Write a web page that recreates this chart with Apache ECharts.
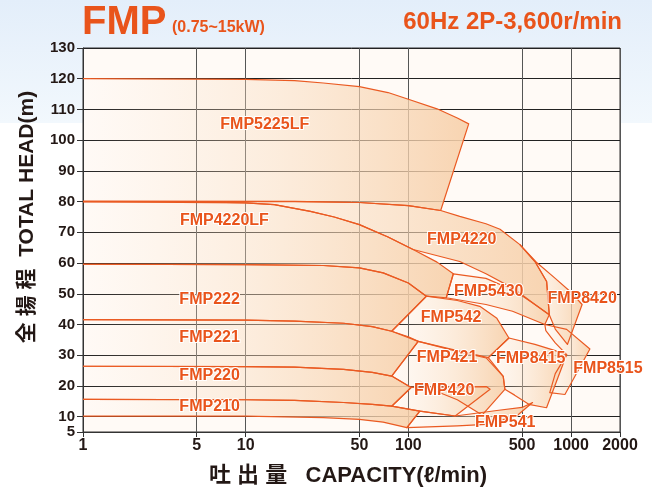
<!DOCTYPE html>
<html>
<head>
<meta charset="utf-8">
<script src="https://cdn.jsdelivr.net/npm/echarts@6/dist/echarts.min.js"></script>
<style>
  html, body { margin: 0; padding: 0; background: #fff; }
  #main {
    width: 652px; height: 495px;
    background: linear-gradient(#e3eefa 0, #f2f8fd 123px, #fff 123px);
  }
</style>
</head>
<body>
<div id="main"></div>
<script>
// 目盛り
const xTicks = [1, 5, 10, 50, 100, 500, 1000, 2000];
const yTicks = [5, 10, 20, 30, 40, 50, 60, 70, 80, 90, 100, 110, 120, 130];

// 各機種の範囲 [吐出量 l/min, 全揚程 m]
const fmp5225lf = [[1, 120], [10, 119.8], [20, 119.4], [30, 118.6], [50, 117.4], [75, 115.5], [100, 113.3],
  [150, 110.2], [200, 107.2], [235, 105.3],
  [158, 77.1], [100, 78.7], [50, 79.7], [20, 80], [1, 80]];
const fmp4220 = [[1, 80.2], [20, 80.1], [50, 79.7], [100, 78.7], [158, 77.1], [207, 75.2], [300, 72.8], [366, 71],
  [485, 66], [600, 60.5], [708, 54], [735, 43.2], [600, 46.5], [450, 51.5], [300, 56.5], [207, 60.5], [107, 64.4],
  [75, 68.5], [50, 72.5], [35, 75], [25, 76.8], [15, 79], [10, 79.6], [1, 80]];
const fmp8420 = [[485, 66], [620, 60], [800, 55], [1000, 50.5], [1170, 46.5], [950, 33.5], [800, 38.5], [735, 43.2],
  [708, 54], [600, 60.5]];
const fmp4220lf = [[1, 80], [5, 80], [10, 79.6], [15, 79], [25, 76.8], [35, 75], [50, 72.5], [75, 68.5],
  [107, 64.4], [150, 60.3], [189, 56.5],
  [171, 48.7], [129, 49.2], [100, 53.5], [70, 56.8], [50, 58.4], [30, 59.2], [10, 59.5], [1, 59.6]];
const fmp5430 = [[189, 56.5], [300, 55], [450, 51], [600, 46.5], [735, 43.2], [690, 40], [437, 44.3], [300, 46.5],
  [171, 48.7]];
const fmp8515 = [[690, 40], [940, 38.4], [1306, 32], [917, 17.2], [740, 17.8], [800, 24], [940, 30.2], [800, 34],
  [700, 38]];
const fmp222 = [[1, 59.6], [10, 59.5], [30, 59.2], [50, 58.4], [70, 56.8], [100, 53.5], [129, 49.2], [79, 37.8],
  [60, 39.3], [40, 40.4], [20, 41.1], [10, 41.4], [1, 41.6]];
const fmp542 = [[129, 49.2], [200, 47.8], [275, 45.9], [350, 42], [415, 35.6], [310, 29.2], [200, 31.5],
  [115, 34.5], [79, 37.8]];
const fmp8415 = [[415, 35.6], [600, 33.5], [800, 31.5], [940, 30.2], [707, 12.9], [550, 14], [450, 17],
  [392, 18.9], [383, 23.1], [310, 29.2]];
const fmp221 = [[1, 41.6], [10, 41.4], [20, 41.1], [40, 40.4], [60, 39.3], [79, 37.8], [100, 36], [115, 34.5],
  [79, 23.2], [60, 24.4], [40, 25.4], [20, 26.1], [10, 26.3], [1, 26.4]];
const fmp421 = [[115, 34.5], [181, 31.8], [301, 29.1], [383, 23.1], [392, 18.9], [284, 10.5], [200, 15.5],
  [130, 19.5], [104, 19.5], [79, 23.2]];
const fmp220 = [[1, 26.4], [10, 26.3], [20, 26.1], [40, 25.4], [60, 24.4], [79, 23.2], [104, 19.5], [79, 13.4],
  [60, 14], [40, 14.6], [20, 15.3], [10, 15.5], [1, 15.6]];
const fmp420 = [[104, 19.5], [181, 19.6], [301, 19.8], [318, 18.9], [194, 10.2], [117.6, 11.8], [79, 13.4]];
const fmp210 = [[1, 15.6], [10, 15.5], [20, 15.3], [40, 14.6], [60, 14], [79, 13.4], [117.6, 11.8], [98, 6.4],
  [70, 8.2], [50, 9.1], [30, 9.7], [10, 10.2], [1, 10.2]];
const fmp541 = [[117.6, 11.8], [194, 10.2], [350, 12], [500, 13], [580, 14.6], [463, 10.2], [300, 7.5],
  [200, 7], [98, 6.4]];

const regions = [fmp5225lf, fmp4220, fmp8420, fmp4220lf, fmp5430, fmp8515, fmp222, fmp542, fmp8415,
  fmp221, fmp421, fmp220, fmp420, fmp210, fmp541];

// ラベル
const labelNames = ['FMP5225LF', 'FMP4220LF', 'FMP222', 'FMP221', 'FMP220', 'FMP210',
  'FMP4220', 'FMP5430', 'FMP8420', 'FMP542', 'FMP421', 'FMP8415', 'FMP8515', 'FMP420', 'FMP541'];
const labelX = [13.1, 7.4, 6.0, 6.0, 6.0, 6.0, 213, 312, 1170, 183, 173, 565, 1687, 166, 394];
const labelY = [105, 73.8, 48.1, 35.75, 23.4, 13.3, 67.6, 50.7, 48.4, 42.4, 29.1, 28.9, 25.8, 18.5, 8.2];

const orange = '#e9541b';
const lineColor = '#ea5a22';
const font = 'Liberation Sans, Arial, sans-serif';

const chart = echarts.init(document.getElementById('main'), null, { renderer: 'canvas' });

function regionFill(params, api) {
  const pts = regions[params.dataIndex].map(p => api.coord(p));
  return {
    type: 'polygon',
    shape: { points: pts },
    style: {
      fill: new echarts.graphic.LinearGradient(0, 0, 1, 0, [
        { offset: 0, color: 'rgba(250,225,200,0)' },
        { offset: 0.5, color: 'rgba(249,220,190,0.45)' },
        { offset: 1, color: 'rgba(247,208,170,0.9)' }
      ])
    }
  };
}

function regionLine(params, api) {
  const r = regions[params.dataIndex];
  const pts = r.map(p => api.coord(p));
  const open = r[0][0] === 1 && r[r.length - 1][0] === 1;
  return {
    type: open ? 'polyline' : 'polygon',
    shape: { points: pts },
    style: { fill: 'none', stroke: lineColor, lineWidth: 1.2, lineJoin: 'round' }
  };
}

const regionData = regions.map((r, i) => [r[0][0], r[0][1], i]);
const labelData = labelNames.map((n, i) => [labelX[i], labelY[i], n]);

const option = {
  animation: false,
  textStyle: { fontFamily: font },
  grid: {
    left: 83, right: 32, top: 48, bottom: 63,
    show: true, backgroundColor: '#fffaf6', borderColor: '#333', borderWidth: 1
  },
  xAxis: {
    type: 'log', logBase: 10, min: 1, max: 2000,
    axisLine: { lineStyle: { color: '#333', width: 1 } },
    axisTick: { show: true, length: 5, customValues: xTicks, lineStyle: { color: '#333' } },
    axisLabel: {
      customValues: xTicks, formatter: v => String(v), hideOverlap: false,
      color: '#231815', fontSize: 16, fontWeight: 'bold', margin: 6
    },
    splitLine: { show: true, lineStyle: { color: '#555', width: 1 } }
  },
  yAxis: {
    type: 'value', min: 5, max: 130,
    axisLine: { show: true, lineStyle: { color: '#333', width: 1 } },
    axisTick: { show: true, length: 6, customValues: yTicks, lineStyle: { color: '#333' } },
    axisLabel: {
      customValues: yTicks, hideOverlap: false,
      color: '#231815', fontSize: 15, fontWeight: 'bold', margin: 8
    },
    splitLine: { show: true, lineStyle: { color: '#222', width: 1 } }
  },
  graphic: [
    {
      type: 'text', left: 82, top: 3,
      style: { text: 'FMP', fill: orange, font: 'bold 40px ' + font }
    },
    {
      type: 'text', left: 172, top: 20,
      style: { text: '(0.75~15kW)', fill: orange, font: 'bold 16px ' + font }
    },
    {
      type: 'text', right: 30, top: 10,
      style: { text: '60Hz 2P-3,600r/min', fill: orange, font: 'bold 24px ' + font }
    },
    {
      type: 'text', x: 348, y: 476,
      style: {
        text: '吐 出 量   CAPACITY(ℓ/min)', fill: '#231815',
        font: 'bold 22px Liberation Sans, Noto Sans CJK JP, sans-serif',
        align: 'center', verticalAlign: 'middle'
      }
    },
    {
      type: 'text', x: 27, y: 217, rotation: Math.PI / 2,
      style: {
        text: '全 揚 程  TOTAL HEAD(m)', fill: '#231815',
        font: 'bold 21px Liberation Sans, Noto Sans CJK JP, sans-serif',
        align: 'center', verticalAlign: 'middle'
      }
    }
  ],
  series: [
    {
      type: 'custom', renderItem: regionFill, data: regionData, z: 2, silent: true
    },
    {
      type: 'custom', renderItem: regionLine, data: regionData, z: 3, silent: true
    },
    {
      type: 'scatter', data: labelData, symbolSize: 1, itemStyle: { opacity: 0 }, z: 5, silent: true,
      label: {
        show: true, position: 'inside', formatter: p => p.value[2],
        color: orange, fontSize: 16, fontWeight: 'bold', opacity: 1,
        textBorderColor: '#fff', textBorderWidth: 2
      }
    }
  ]
};

chart.setOption(option);
</script>
</body>
</html>
